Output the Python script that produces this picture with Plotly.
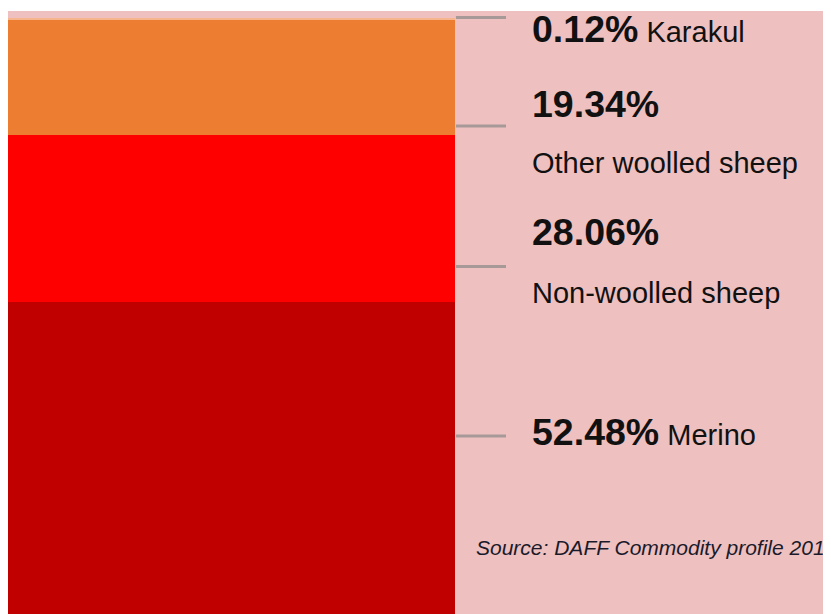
import plotly.graph_objects as go

# sheep breed shares, bottom to top of the stacked bar
breeds = ["Merino", "Non-woolled sheep", "Other woolled sheep", "Karakul"]
shares = [52.48, 28.06, 19.34, 0.12]
colors = ["#C00000", "#FF0000", "#EC7D31", "#F6B58C"]

source_note = "Source: DAFF Commodity profile 201"

fig = go.Figure()
for name, share, color in zip(breeds, shares, colors):
    fig.add_trace(
        go.Bar(
            x=[0],
            y=[share],
            name=name,
            width=1,
            marker=dict(color=color, line=dict(width=0)),
            hoverinfo="name+y",
        )
    )

# leader lines and label blocks (y in % of the bar)
leader_y = [29.9, 58.4, 82.0, 100.25]
label_y = {
    "Merino": [(30.6, "pct+name")],
    "Non-woolled sheep": [(64.2, "pct"), (53.9, "name")],
    "Other woolled sheep": [(85.7, "pct"), (75.8, "name")],
    "Karakul": [(98.3, "pct+name")],
}

shapes = []
for y in leader_y:
    shapes.append(
        dict(
            type="line",
            xref="x",
            yref="y",
            x0=0.502,
            x1=0.614,
            y0=y,
            y1=y,
            line=dict(color="#A89999", width=3),
            layer="above",
        )
    )

annotations = []
for name, share in zip(breeds, shares):
    pct = f"<span style='font-size:37.5px'><b>{share:.2f}%</b></span>"
    for y, kind in label_y[name]:
        if kind == "pct+name":
            text = f"{pct} {name}"
        elif kind == "pct":
            text = pct
        else:
            text = name
        annotations.append(
            dict(
                x=0.667,
                y=y,
                xref="x",
                yref="y",
                text=text,
                showarrow=False,
                xanchor="left",
                yanchor="middle",
                font=dict(family="Liberation Sans, Arial, sans-serif", size=29, color="#111111"),
            )
        )

annotations.append(
    dict(
        x=0.542,
        y=11.1,
        xref="x",
        yref="y",
        text=f"<i>{source_note}</i>",
        showarrow=False,
        xanchor="left",
        yanchor="middle",
        font=dict(family="Liberation Sans, Arial, sans-serif", size=21, color="#1a1a2a"),
    )
)

# page body keeps an 8px margin, so the figure is sized to fit the window
fig.update_layout(
    width=823,
    height=606,
    barmode="stack",
    bargap=0,
    showlegend=False,
    paper_bgcolor="white",
    plot_bgcolor="#EEC0C0",
    margin=dict(l=0, r=0, t=3, b=0),
    xaxis=dict(range=[-0.5, 1.341], visible=False, fixedrange=True),
    yaxis=dict(range=[0, 101.34], visible=False, fixedrange=True),
    shapes=shapes,
    annotations=annotations,
)

fig.write_html("out.html")
